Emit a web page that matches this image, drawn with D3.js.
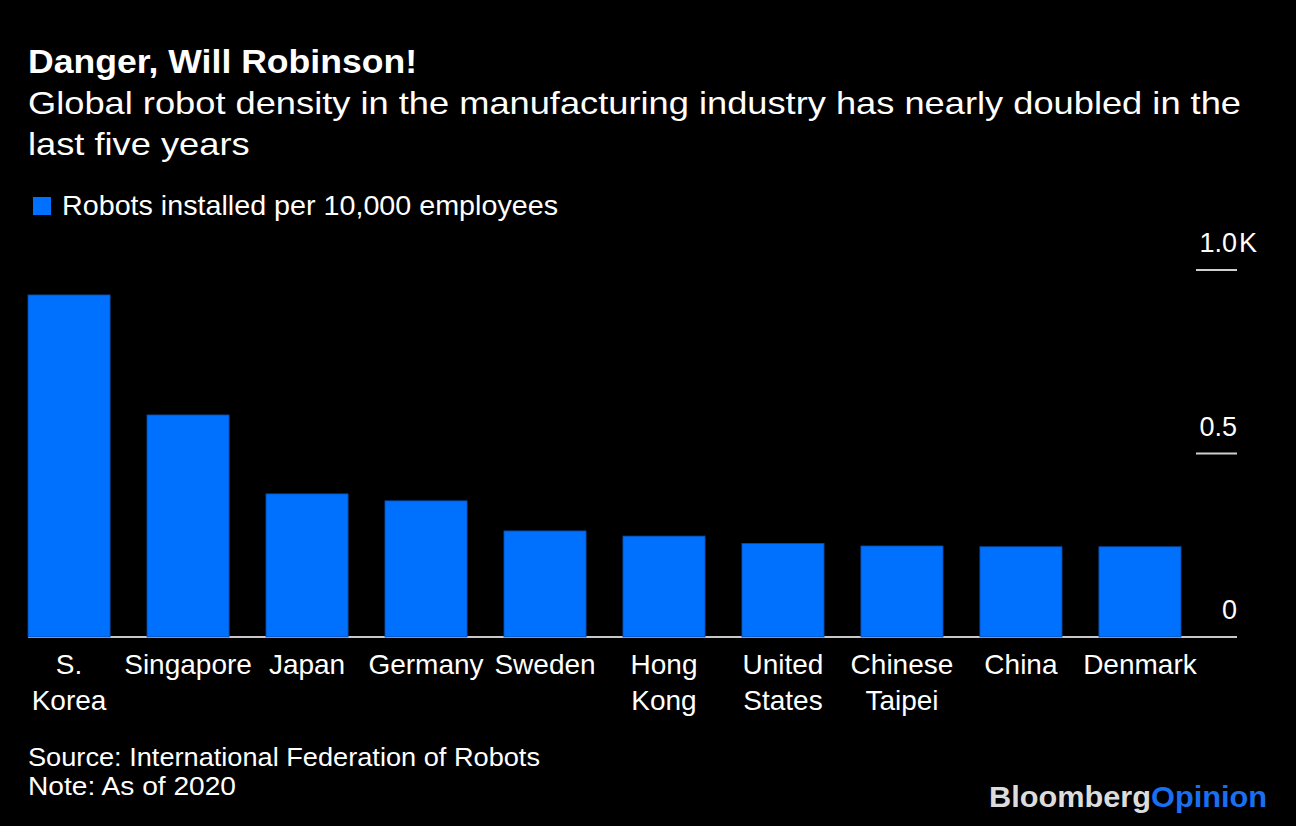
<!DOCTYPE html>
<html>
<head>
<meta charset="utf-8">
<script src="https://cdn.jsdelivr.net/npm/d3@7"></script>
<style>
  html, body { margin: 0; padding: 0; background: #000; }
  svg { display: block; }
  text { font-family: "Liberation Sans", Arial, Helvetica, sans-serif; fill: #fff; }
</style>
</head>
<body>
<svg id="chart" width="1296" height="826"></svg>
<script>
// ---- data ----
const categories = ["S. Korea", "Singapore", "Japan", "Germany", "Sweden",
                    "Hong Kong", "United States", "Chinese Taipei", "China", "Denmark"];
const values = [932, 605, 390, 371, 289, 275, 255, 248, 246, 246];
const tickValues = [0, 500, 1000];
const tickLabels = ["0", "0.5", "1.0"];
const tickSuffixes = ["", "", "K"];

const titleText = "Danger, Will Robinson!";
const subtitleLines = ["Global robot density in the manufacturing industry has nearly doubled in the",
                       "last five years"];
const legendLabel = "Robots installed per 10,000 employees";
const sourceText = "Source: International Federation of Robots";
const noteText = "Note: As of 2020";

// ---- layout ----
const W = 1296, H = 826;
const barColor = "#0070ff";
const svg = d3.select("#chart");
svg.append("rect").attr("width", W).attr("height", H).attr("fill", "#000");

const x = d3.scaleBand().domain(categories).range([28, 1181]).paddingInner(0.31).paddingOuter(0);
const y = d3.scaleLinear().domain([0, 1000]).range([637, 270]);

// title & subtitle
svg.append("text").attr("x", 28).attr("y", 73)
  .attr("font-size", 34).attr("font-weight", "bold")
  .attr("textLength", 389).attr("lengthAdjust", "spacingAndGlyphs")
  .text(titleText);

const subLens = [1213, null];
subtitleLines.forEach((t, i) => {
  const el = svg.append("text").attr("x", 28).attr("y", 114 + i * 41)
    .attr("font-size", 32).text(t);
  if (subLens[i]) el.attr("textLength", subLens[i]).attr("lengthAdjust", "spacingAndGlyphs");
  else el.attr("transform", `translate(28,0) scale(${1213 / (33.461 * 32)},1) translate(-28,0)`);
});

// legend
svg.append("rect").attr("x", 33).attr("y", 197).attr("width", 18).attr("height", 18).attr("fill", barColor);
svg.append("text").attr("x", 62).attr("y", 215).attr("font-size", 28)
  .attr("textLength", 496).attr("lengthAdjust", "spacingAndGlyphs")
  .text(legendLabel);

// axis ticks (right side)
const axisG = svg.append("g");
tickValues.forEach((v, i) => {
  if (v !== 0) {
    axisG.append("line").attr("x1", 1196).attr("x2", 1237)
      .attr("y1", y(v)).attr("y2", y(v))
      .attr("stroke", "#cfcfcf").attr("stroke-width", 2);
  }
  axisG.append("text").attr("x", 1237).attr("y", y(v) - 18)
    .attr("text-anchor", "end").attr("font-size", 27).text(tickLabels[i]);
  if (tickSuffixes[i]) {
    axisG.append("text").attr("x", 1239).attr("y", y(v) - 18)
      .attr("font-size", 27).text(tickSuffixes[i]);
  }
});

// baseline
svg.append("line").attr("x1", 28).attr("x2", 1237)
  .attr("y1", y(0)).attr("y2", y(0))
  .attr("stroke", "#c8c8c8").attr("stroke-width", 2);

// bars
svg.append("g").selectAll("rect").data(categories).join("rect")
  .attr("x", d => x(d))
  .attr("width", x.bandwidth())
  .attr("y", (d, i) => y(values[i]))
  .attr("height", (d, i) => y(0) - y(values[i]))
  .attr("fill", barColor)
  .attr("stroke", "#0a4aa0").attr("stroke-width", 0.8);

// category labels
const lab = svg.append("g").selectAll("text").data(categories).join("text")
  .attr("text-anchor", "middle").attr("font-size", 28);
lab.each(function(d) {
  const words = d.split(" ");
  const cx = x(d) + x.bandwidth() / 2;
  words.forEach((w, j) => {
    d3.select(this).append("tspan").attr("x", cx).attr("y", 674 + j * 36).text(w);
  });
});

// footer
svg.append("text").attr("x", 28).attr("y", 766).attr("font-size", 26)
  .attr("textLength", 512).attr("lengthAdjust", "spacingAndGlyphs").text(sourceText);
svg.append("text").attr("x", 28).attr("y", 795).attr("font-size", 26)
  .attr("textLength", 208).attr("lengthAdjust", "spacingAndGlyphs").text(noteText);

// logo
const logo = svg.append("text").attr("x", 989).attr("y", 807)
  .attr("font-size", 30).attr("font-weight", "bold")
  .attr("textLength", 278).attr("lengthAdjust", "spacingAndGlyphs");
logo.append("tspan").style("fill", "#dcdcdc").text("Bloomberg");
logo.append("tspan").style("fill", "#1a6ff0").text("Opinion");
</script>
</body>
</html>
